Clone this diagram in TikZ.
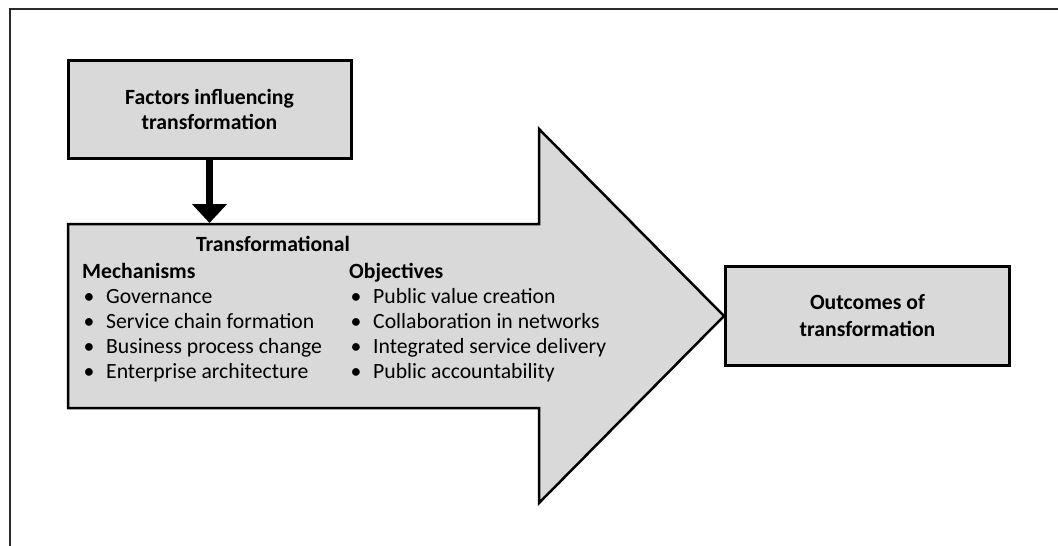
\documentclass[tikz,border=0pt]{standalone}
\usepackage{fontspec}
\setmainfont{Carlito}
\usepackage{xcolor}
\usetikzlibrary{arrows.meta}

\definecolor{boxgray}{HTML}{D9D9D9}
\definecolor{framegray}{HTML}{2B2B2B}
\newcommand{\bul}{\makebox[24pt][l]{\hspace{1.5pt}\textbullet}}

\begin{document}
\begin{tikzpicture}[x=1pt,y=-1pt,
	every node/.style={font=\fontsize{21.7}{25}\selectfont},
	box/.style={draw=black,line width=3pt,fill=boxgray,align=center,inner sep=0pt,font=\fontsize{21.7}{25}\selectfont\bfseries},
	column/.style={anchor=base west,align=left,inner sep=0pt}]
	\useasboundingbox (0,0) rectangle (1058,546);
	% frame
	\draw[framegray,line width=2pt] (10,546) -- (10,8.5) -- (1058,8.5);
	% big arrow
	\coordinate (tip) at (724,316);
	\draw[line width=2.5pt,fill=boxgray,line join=miter] (68,224) -- (539,224) -- (539,129) -- (tip) -- (539,503) -- (539,408) -- (68,408) -- cycle;
	\node[anchor=base] (trans) at (273,251) {\textbf{Transformational}};
	% columns, placed by the baseline of their last line
	\node[column] (mech) at (82,378.5) {\textbf{Mechanisms}\\
		\bul Governance\\
		\bul Service chain formation\\
		\bul Business process change\\
		\bul Enterprise architecture};
	\node[column] (obj) at (349,378.5) {\textbf{Objectives}\\
		\bul Public value creation\\
		\bul Collaboration in networks\\
		\bul Integrated service delivery\\
		\bul Public accountability};
	% boxes
	\node[box,minimum width=283pt,minimum height=98pt] (factors) at (209.5,109) {Factors influencing\\transformation};
	\node[box,anchor=west,minimum width=284pt,minimum height=99pt,font=\fontsize{21.7}{27}\selectfont\bfseries] (outcomes) at (tip) {Outcomes of\\transformation};
	\coordinate (entry) at (209.5,223);
	\draw[line width=7pt,-{Triangle[length=19pt,width=34pt]}] (factors.south) -- (entry);
\end{tikzpicture}
\end{document}
